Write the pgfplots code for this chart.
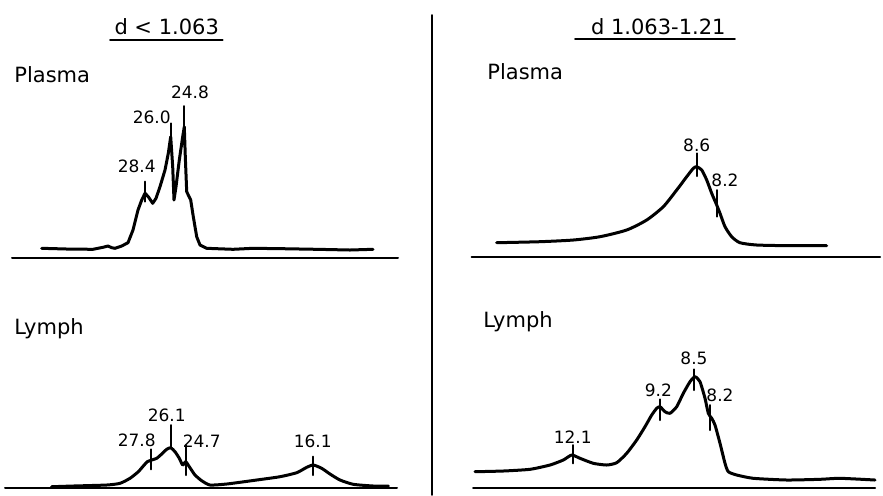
\documentclass[border=0pt]{standalone}
\usepackage{pgfplots}
\pgfplotsset{compat=1.18}
\usepackage{fontspec}
\setmainfont{DejaVu Sans}
\newcommand{\ttl}{\fontsize{10.5}{12}\selectfont}
\newcommand{\pk}{\fontsize{8.5}{10}\selectfont}
\begin{document}
\begin{tikzpicture}
\begin{axis}[
  name=main,
  scale only axis, width=441.5pt, height=247.5pt,
  xmin=0, xmax=883, ymin=0, ymax=495, y dir=reverse,
  hide axis, clip=false,
  every axis plot/.append style={black, line join=round, line cap=round},
]
% ---- frame lines: baselines, divider, underlines
\addplot[line width=1pt] coordinates {(12,257.7) (398,257.7)};
\addplot[line width=1pt] coordinates {(471.7,257.3) (880,257.3)};
\addplot[line width=1pt] coordinates {(5,488.3) (397,488.3)};
\addplot[line width=1pt] coordinates {(473,487.5) (875,487.5)};
\addplot[line width=0.9pt] coordinates {(432,15) (432,495)};
\addplot[line width=0.9pt] coordinates {(110,40) (222.7,40)};
\addplot[line width=0.9pt] coordinates {(575,39.3) (735,39.3)};

% ---- top left: d<1.063 plasma
\addplot[line width=1.5pt] coordinates {
(41.7,248.3) (66.7,249) (93,249.3) (103,247.3) (108,246) (111.7,247.7) (115,248.3)
(121.7,246) (128,242.7) (133,230) (138,210) (141.7,200) (145,193.3) (148.3,196.7)
(152.7,203.3) (156,198.3) (160,186.7) (165,170) (168.3,153.3) (170.7,136.7)
(172.7,166.7) (174,200) (176,186.7) (179.3,160) (182.7,136.7) (184.3,126.7)
(185.3,156.7) (186.7,191.7) (190.7,200) (193.3,216.7) (196.7,236.7) (200,245)
(206.7,248.3) (233,249.3) (253,248.3) (283,248.7) (316.7,249.3) (350,250) (373,249.3)};
\addplot[line width=1pt] coordinates {(145,181.7) (145,201.7)};
\addplot[line width=1pt] coordinates {(171,123.3) (171,137)};
\addplot[line width=1pt] coordinates {(184,106) (184,127)};

% ---- top right: d 1.063-1.21 plasma
\addplot[line width=1.5pt, smooth, tension=0.4] coordinates {
(496.7,242.7) (540,241.7) (573.3,240) (600,236.7) (626.7,230) (646.7,220)
(663.3,206.7) (676.7,190) (686.7,176.7) (693.3,168.3) (696.7,166.7) (701.7,170)
(706.7,180) (711.7,193.3) (716.7,205) (720,213.3) (725,226.7) (731.7,236.7)
(740,242.7) (756.7,245) (790,245.7) (826.7,245.7)};
\addplot[line width=1pt] coordinates {(696.7,153.3) (696.7,176)};
\addplot[line width=1pt] coordinates {(716.7,190) (716.7,216.7)};

% ---- bottom left: d<1.063 lymph
\addplot[line width=1.5pt, smooth, tension=0.35] coordinates {
(51.7,486.7) (73.3,486) (106.7,485) (120,483.3) (130,478.3) (138.3,471.7)
(143.3,466) (147.3,461.7) (151.7,460) (156.7,458.3) (161.7,454) (166.7,449.3)
(170.7,447.7) (175,451.7) (179.3,458.3) (182.7,465) (185.7,461.7) (189.3,466.7)
(195,475) (201.7,480.7) (210,485) (226.7,484) (256.7,480) (280,476.7)
(296.7,472.7) (306.7,467.3) (313.3,465) (321.7,468.3) (330,474) (340,480)
(353.3,484.3) (373.3,486) (388.3,486)};
\addplot[line width=1pt] coordinates {(150.7,449.3) (150.7,469.3)};
\addplot[line width=1pt] coordinates {(170.7,425) (170.7,448.3)};
\addplot[line width=1pt] coordinates {(185.7,445) (185.7,475)};
\addplot[line width=1pt] coordinates {(313.3,456.7) (313.3,475)};

% ---- bottom right: d 1.063-1.21 lymph
\addplot[line width=1.5pt, smooth, tension=0.35] coordinates {
(475,471.7) (503.3,471) (530,469.3) (550,465) (563.3,460) (571.7,455) (580,458.3)
(593.3,463.3) (606.7,465) (616.7,462.7) (626.7,453.3) (636.7,440) (645,426.7)
(651.7,415) (656.7,408.3) (660,406.7) (665,411.7) (670,413.3) (676.7,406.7)
(683.3,393.3) (690,381.7) (695,376.7) (700,381.7) (705,398.3) (708.3,413.3)
(711.7,418.3) (715,425) (720,443.3) (725,463.3) (728.3,471.7) (736.7,475)
(753.3,478.3) (786.7,480) (820,479.3) (840,478.3) (875,480)};
\addplot[line width=1pt] coordinates {(572.7,445) (572.7,463.3)};
\addplot[line width=1pt] coordinates {(660,399.3) (660,420)};
\addplot[line width=1pt] coordinates {(694,369.3) (694,390)};
\addplot[line width=1pt] coordinates {(710,405) (710,430)};

% ---- texts
\node[font=\ttl] at (axis cs:166.7,26.7) {d < 1.063};
\node[font=\ttl] at (axis cs:658.3,26.7) {d 1.063-1.21};
\node[font=\ttl, anchor=west, inner sep=0pt] at (axis cs:14,74.5) {Plasma};
\node[font=\ttl, anchor=west, inner sep=0pt] at (axis cs:487,71.5) {Plasma};
\node[font=\ttl, anchor=west, inner sep=0pt] at (axis cs:14,329) {Lymph};
\node[font=\ttl, anchor=west, inner sep=0pt] at (axis cs:483,322) {Lymph};

\node[font=\pk] at (axis cs:136.7,166.7) {28.4};
\node[font=\pk] at (axis cs:151.7,117.3) {26.0};
\node[font=\pk] at (axis cs:190,92.7) {24.8};
\node[font=\pk] at (axis cs:696.7,145) {8.6};
\node[font=\pk] at (axis cs:725,180) {8.2};
\node[font=\pk] at (axis cs:136.7,440) {27.8};
\node[font=\pk] at (axis cs:166.7,415) {26.1};
\node[font=\pk] at (axis cs:201.7,440.7) {24.7};
\node[font=\pk] at (axis cs:312.7,441.7) {16.1};
\node[font=\pk] at (axis cs:572.7,437.3) {12.1};
\node[font=\pk] at (axis cs:658.3,390) {9.2};
\node[font=\pk] at (axis cs:694,358.3) {8.5};
\node[font=\pk] at (axis cs:720,395) {8.2};
\end{axis}
\pgfresetboundingbox
\useasboundingbox (main.south west) rectangle (main.north east);
\end{tikzpicture}
\end{document}
